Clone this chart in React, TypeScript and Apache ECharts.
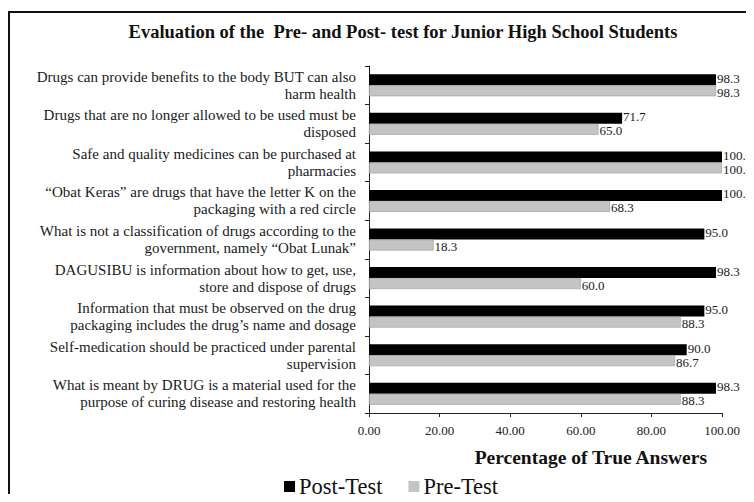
import React, { useEffect, useRef } from "react";
import * as echarts from "echarts";

const categories = [
  "Drugs can provide benefits to the body BUT can also\nharm health",
  "Drugs that are no longer allowed to be used must be\ndisposed",
  "Safe and quality medicines can be purchased at\npharmacies",
  "\u201cObat Keras\u201d are drugs that have the letter K on the\npackaging with a red circle",
  "What is not a classification of drugs according to the\ngovernment, namely \u201cObat Lunak\u201d",
  "DAGUSIBU is information about how to get, use,\nstore and dispose of drugs",
  "Information that must be observed on the drug\npackaging includes the drug\u2019s name and dosage",
  "Self-medication should be practiced under parental\nsupervision",
  "What is meant by DRUG is a material used for the\npurpose of curing disease and restoring health",
];
const postTest = [98.3, 71.7, 100.0, 100.0, 95.0, 98.3, 95.0, 90.0, 98.3];
const preTest = [98.3, 65.0, 100.0, 68.3, 18.3, 60.0, 88.3, 86.7, 88.3];
const xTicks = [0, 20, 40, 60, 80, 100];

const FONT = "'Liberation Serif', 'Times New Roman', serif";

export default function App() {
  const ref = useRef<HTMLDivElement>(null);
  useEffect(() => {
    if (!ref.current) return;
    const chart = echarts.init(ref.current, null, { renderer: "svg" });
    const valueLabel = (dy: number) => ({
      show: true,
      position: "right",
      distance: 1,
      offset: [0, dy],
      fontFamily: FONT,
      fontSize: 13,
      lineHeight: 12,
      color: "#1a1a1a",
      formatter: (p: any) => Number(p.value).toFixed(1),
    });
    chart.setOption({
      animation: false,
      backgroundColor: "#ffffff",
      textStyle: { fontFamily: FONT, color: "#1a1a1a" },
      graphic: [
        {
          type: "rect",
          shape: { x: 9, y: 12, width: 800, height: 520 },
          style: { fill: "none", stroke: "#111", lineWidth: 2 },
          silent: true,
        },
        {
          type: "text",
          x: 403,
          y: 32,
          style: {
            text: "Evaluation of the  Pre- and Post- test for Junior High School Students",
            font: "bold 18.5px " + FONT,
            fill: "#111",
            textAlign: "center",
            textVerticalAlign: "middle",
          },
        },
        {
          type: "text",
          x: 707,
          y: 457,
          style: {
            text: "Percentage of True Answers",
            font: "bold 19.5px " + FONT,
            fill: "#111",
            textAlign: "right",
            textVerticalAlign: "middle",
          },
        },
      ],
      legend: {
        data: ["Post-Test", "Pre-Test"],
        left: 279,
        top: 470,
        icon: "rect",
        itemWidth: 11,
        itemHeight: 11,
        itemGap: 26,
        itemStyle: { borderWidth: 0 },
        textStyle: { fontFamily: FONT, fontSize: 22.5, color: "#111", padding: [0, 0, 0, -1] },
      },
      grid: { left: 369, right: 32, top: 66, bottom: 89, containLabel: false },
      xAxis: {
        type: "value",
        min: 0,
        max: 100,
        interval: 20,
        axisLine: { show: true, lineStyle: { color: "#222", width: 1 } },
        axisTick: { show: true, length: 4, lineStyle: { color: "#222" } },
        splitLine: { show: false },
        axisLabel: {
          fontFamily: FONT,
          fontSize: 13,
          color: "#222",
          margin: 11,
          formatter: (v: number) => (xTicks.includes(v) ? v.toFixed(2) : ""),
        },
      },
      yAxis: {
        type: "category",
        inverse: true,
        data: categories,
        axisLine: { show: true, lineStyle: { color: "#222", width: 1 } },
        axisTick: { show: true, length: 4, lineStyle: { color: "#222" } },
        axisLabel: {
          fontFamily: FONT,
          fontSize: 15,
          lineHeight: 17,
          color: "#1a1a1a",
          margin: 13,
          align: "right",
        },
      },
      series: [
        {
          name: "Post-Test",
          type: "bar",
          data: postTest,
          barWidth: 11,
          barGap: "0%",
          itemStyle: { color: "#000000" },
          label: valueLabel(-1.5),
        },
        {
          name: "Pre-Test",
          type: "bar",
          data: preTest,
          barWidth: 11,
          barGap: "0%",
          itemStyle: { color: "#c4c4c4", borderColor: "#9a9a9a", borderWidth: 0.6 },
          label: valueLabel(1.5),
        },
      ],
    });
    return () => chart.dispose();
  }, []);
  return <div ref={ref} style={{ width: 754, height: 502, margin: -8 }} />;
}
